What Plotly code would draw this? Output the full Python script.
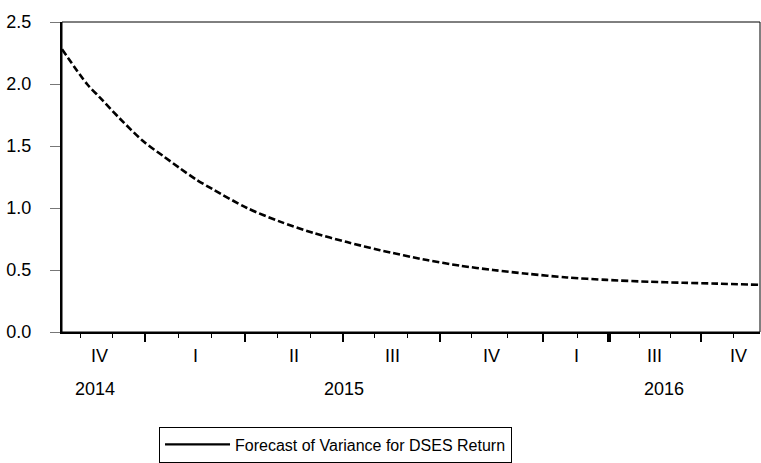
import plotly.graph_objects as go

obs = [0, 25, 38, 58, 81, 101, 118, 134, 151, 185, 218, 251, 285, 318, 365, 398,
       431, 465, 505, 545, 588, 621, 655, 698]
variance = [2.28, 2.00, 1.89, 1.72, 1.54, 1.42, 1.32, 1.23, 1.15, 1.00, 0.89, 0.80,
            0.725, 0.66, 0.58, 0.535, 0.50, 0.47, 0.44, 0.42, 0.405, 0.397,
            0.39, 0.38]

series_name = "Forecast of Variance for DSES Return"

# axis structure (observation numbers)
major_ticks = [83, 183, 281, 378, 481, 546, 548, 639]
minor_ticks = [18, 50, 116, 149, 215, 248, 312, 345, 409, 445, 515, 577, 608, 671]
quarter_pos = [37, 133, 232, 330, 429, 514, 592, 676]
quarter_lab = ["IV", "I", "II", "III", "IV", "I", "III", "IV"]
year_pos = [33, 282, 602]
year_lab = ["2014", "2015", "2016"]
y_ticks = [0.0, 0.5, 1.0, 1.5, 2.0, 2.5]

FONT = "Liberation Sans, Arial, sans-serif"

fig = go.Figure()
fig.add_trace(go.Scatter(
    x=obs, y=variance, mode="lines", line=dict(color="black", width=2.6, dash="7px,3px",
                                               shape="spline", smoothing=0.8),
    showlegend=False, hoverinfo="skip"))
fig.add_trace(go.Scatter(
    x=[None], y=[None], mode="lines", line=dict(color="black", width=2.2),
    name=series_name, showlegend=True))

annotations = []
for p, t in zip(quarter_pos, quarter_lab):
    annotations.append(dict(x=p, y=0, xref="x", yref="paper", text=t, showarrow=False,
                            yanchor="middle", yshift=-24, font=dict(size=18, color="black", family=FONT)))
for p, t in zip(year_pos, year_lab):
    annotations.append(dict(x=p, y=0, xref="x", yref="paper", text=t, showarrow=False,
                            yanchor="middle", yshift=-57, font=dict(size=18, color="black", family=FONT)))

fig.update_layout(
    width=761, height=463,
    margin=dict(l=62, r=1, t=22, b=131),
    paper_bgcolor="white", plot_bgcolor="white",
    font=dict(family=FONT, size=17, color="black"),
    xaxis=dict(range=[0, 698], showgrid=False, zeroline=False,
               showline=True, linecolor="black", linewidth=2,
               tickmode="array", tickvals=major_ticks, ticks="outside", ticklen=8,
               tickwidth=1.5, tickcolor="black", showticklabels=False,
               minor=dict(tickmode="array", tickvals=minor_ticks, ticks="outside",
                          ticklen=4, tickwidth=1, tickcolor="black", showgrid=False)),
    yaxis=dict(range=[0, 2.5], showgrid=False, zeroline=False,
               showline=True, linecolor="black", linewidth=2,
               tickmode="array", tickvals=y_ticks, tickformat=".1f",
               ticks="outside", ticklen=10, tickwidth=1.2, tickcolor="#777777",
               ticklabelstandoff=15, tickfont=dict(size=18, family=FONT, color="black")),
    legend=dict(x=0.139, y=-0.305, xanchor="left", yanchor="top",
                bordercolor="black", borderwidth=1, bgcolor="white",
                font=dict(size=16, family=FONT, color="black"), itemwidth=65),
    annotations=annotations,
    shapes=[dict(type="rect", xref="paper", yref="paper", x0=0, x1=1, y0=0, y1=1,
                 line=dict(color="black", width=1))],
)

fig.write_html("out.html")
